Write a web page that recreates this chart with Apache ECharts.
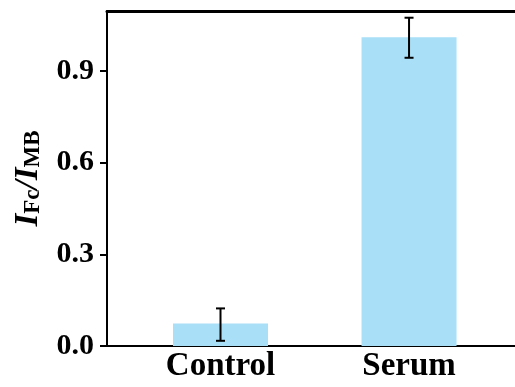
<!DOCTYPE html>
<html><head><meta charset="utf-8">
<script src="https://cdn.jsdelivr.net/npm/echarts@6/dist/echarts.min.js"></script>
<style>html,body{margin:0;padding:0;background:#fff}#c{width:515px;height:387px}</style>
</head><body><div id="c"></div>
<script>
var categories = ['Control', 'Serum'];
var values = [0.074, 1.010];
var errUpper = [0.123, 1.074];
var errLower = [0.017, 0.943];
var yTicks = [0, 0.3, 0.6, 0.9];

var FONT = '"Liberation Serif","Times New Roman",serif';
var chart = echarts.init(document.getElementById('c'), null, {renderer:'canvas'});
var barData = values.map(function(v,i){return [i+1, v];});
var errData = values.map(function(v,i){return [i+1, errLower[i], errUpper[i]];});
chart.setOption({
  backgroundColor:'#fff',
  animation:false,
  grid:{left:107, right:0, top:11, bottom:41, containLabel:false},
  xAxis:[{
    type:'value', position:'bottom', min:0.398, max:2.562,
    axisLine:{show:true, lineStyle:{color:'#000', width:2}},
    axisTick:{show:false}, splitLine:{show:false},
    axisLabel:{customValues:[1,2], formatter:function(v){return categories[Math.round(v)-1]||'';},
      fontFamily:FONT, fontWeight:'bold', fontSize:33, color:'#000', margin:4}
  },{
    type:'value', position:'top', min:0.398, max:2.562,
    axisLine:{show:true, lineStyle:{color:'#000', width:3}},
    axisTick:{show:false}, splitLine:{show:false}, axisLabel:{show:false}
  }],
  yAxis:{
    type:'value', min:0, max:1.096, interval:0.3,
    axisLine:{show:true, lineStyle:{color:'#000', width:2}},
    axisTick:{show:true, inside:false, length:7, lineStyle:{color:'#000', width:2},
      customValues:yTicks},
    splitLine:{show:false},
    axisLabel:{customValues:yTicks, formatter:function(v){return v.toFixed(1);},
      fontFamily:FONT, fontWeight:'bold', fontSize:30, color:'#000', margin:13},
    name:'{i|I}{s|Fc}{i|/I}{s|MB}',
    nameLocation:'middle', nameGap:62, nameRotate:90,
    nameTextStyle:{
      rich:{
        i:{fontFamily:FONT, fontWeight:'bold', fontStyle:'italic', fontSize:33, color:'#000', verticalAlign:'bottom', lineHeight:36},
        s:{fontFamily:FONT, fontWeight:'bold', fontSize:23, color:'#000', verticalAlign:'bottom', lineHeight:36, padding:[14,0,0,0]}
      }
    }
  },
  series:[{
    type:'bar', xAxisIndex:0, data:barData, barWidth:95,
    itemStyle:{color:'#a9e0f8'}
  },{
    type:'custom', xAxisIndex:0, data:errData, z:5,
    renderItem:function(params, api){
      var x = api.value(0);
      var top = api.coord([x, api.value(2)]);
      var bot = api.coord([x, api.value(1)]);
      var hw = 4.5;
      var st = {stroke:'#000', lineWidth:2};
      return {type:'group', children:[
        {type:'line', shape:{x1:top[0], y1:top[1], x2:bot[0], y2:bot[1]}, style:st},
        {type:'line', shape:{x1:top[0]-hw, y1:top[1], x2:top[0]+hw, y2:top[1]}, style:st},
        {type:'line', shape:{x1:bot[0]-hw, y1:bot[1], x2:bot[0]+hw, y2:bot[1]}, style:st}
      ]};
    }
  }]
});
</script></body></html>
